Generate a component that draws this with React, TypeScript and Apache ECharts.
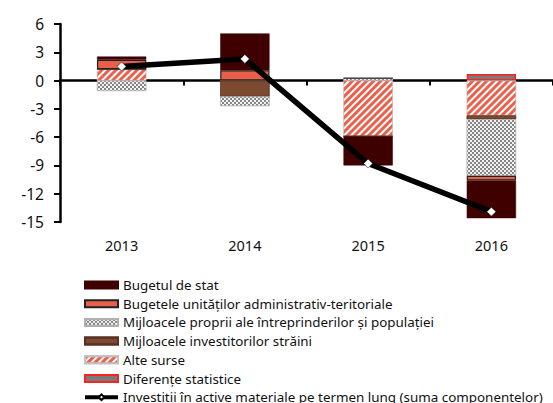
import React, { useEffect, useRef } from "react";
import * as echarts from "echarts";

const categories = ["2013", "2014", "2015", "2016"];
const bugetulDeStat = [0.35, 3.9, -3.1, -4.0];
const bugeteleUAT = [1.0, 1.1, 0, -0.5];
const mijloacelePropriiFirme = [-1.1, -1.0, 0.25, -6.0];
const mijloaceleInvestitori = [0, -1.7, 0, -0.4];
const alteSurse = [1.2, 0, -5.9, -3.7];
const diferenteStatistice = [0, 0, 0, 0.7];
const investitiiTotal = [1.5, 2.3, -8.8, -13.9];
const yTicks = { min: -15, max: 6, interval: 3 };

const FONT = "Noto Sans";

export default function App() {
  const ref = useRef<HTMLDivElement>(null);
  useEffect(() => {
    if (!ref.current) return;
    const chart = echarts.init(ref.current, null, { renderer: "svg" });
    const barCommon = {
      type: "bar",
      stack: "total",
      barWidth: "40%",
      xAxisIndex: 0,
      yAxisIndex: 0,
    };
    const rectIcon = "rect";
    chart.setOption({
      animation: false,
      textStyle: { fontFamily: FONT },
      grid: { left: 60, top: 24, width: 499, bottom: 181, containLabel: false },
      legend: {
        orient: "vertical",
        left: 83,
        top: 278,
        padding: 0,
        height: 200,
        itemWidth: 33,
        itemHeight: 7,
        itemGap: 4.7,
        textStyle: { fontFamily: FONT, fontSize: 13.4, color: "#111", lineHeight: 14 },
        data: [
          { name: "Bugetul de stat", icon: rectIcon },
          { name: "Bugetele unităților administrativ-teritoriale", icon: rectIcon },
          { name: "Mijloacele proprii ale întreprinderilor și populației", icon: rectIcon },
          { name: "Mijloacele investitorilor străini", icon: rectIcon },
          { name: "Alte surse", icon: rectIcon },
          { name: "Diferențe statistice", icon: rectIcon },
          {
            name: "Investitii în active materiale pe termen lung (suma componentelor)",
            lineStyle: { width: 4, color: "#000" },
          },
        ],
      },
      xAxis: [
        {
          type: "category",
          data: categories,
          position: "bottom",
          axisLine: { show: false, onZero: false },
          axisTick: { show: false },
          axisLabel: { fontFamily: FONT, fontSize: 14.5, color: "#111", margin: 15 },
        },
        {
          type: "category",
          data: categories,
          position: "bottom",
          axisLine: { show: true, onZero: true, lineStyle: { color: "#000", width: 2.5 } },
          axisTick: { show: true, length: 5, lineStyle: { color: "#000", width: 2 } },
          axisLabel: { show: false },
        },
      ],
      yAxis: {
        type: "value",
        min: yTicks.min,
        max: yTicks.max,
        interval: yTicks.interval,
        axisLine: { show: true, onZero: false, lineStyle: { color: "#000", width: 2.5 } },
        axisTick: { show: true, length: 6, lineStyle: { color: "#000", width: 2 } },
        splitLine: { show: false },
        axisLabel: { fontFamily: FONT, fontSize: 15.5, color: "#111", margin: 16 },
      },
      series: [
        {
          ...barCommon,
          name: "Diferențe statistice",
          data: diferenteStatistice,
          itemStyle: { color: "#7a7a7a", borderColor: "#ff2020", borderWidth: 1.5 },
        },
        {
          ...barCommon,
          name: "Alte surse",
          data: alteSurse,
          itemStyle: {
            color: "#ffffff",
            borderColor: "#c0c0c0",
            borderWidth: 0.5,
            decal: {
              symbol: "rect",
              color: "#ec5f4a",
              dashArrayX: [1, 0],
              dashArrayY: [2.2, 1.6],
              rotation: -Math.PI / 4,
            },
          },
        },
        {
          ...barCommon,
          name: "Mijloacele investitorilor străini",
          data: mijloaceleInvestitori,
          itemStyle: {
            color: "#7b4a30",
            borderColor: "#5a3020",
            borderWidth: 0.5,
            decal: {
              symbol: "circle",
              symbolSize: 0.3,
              color: "#ffffff",
              dashArrayX: [[1.5, 8]],
              dashArrayY: [[1.5, 8]],
            },
          },
        },
        {
          ...barCommon,
          name: "Mijloacele proprii ale întreprinderilor și populației",
          data: mijloacelePropriiFirme,
          itemStyle: {
            color: "#858585",
            borderColor: "#b0b0b0",
            borderWidth: 0.5,
            decal: {
              symbol: "rect",
              symbolSize: 1,
              color: "#f2f2f2",
              dashArrayX: [[2, 2], [0, 2, 2, 0]],
              dashArrayY: [2, 0],
            },
          },
        },
        {
          ...barCommon,
          name: "Bugetele unităților administrativ-teritoriale",
          data: bugeteleUAT,
          itemStyle: { color: "#e8604a", borderColor: "#222", borderWidth: 1.2 },
        },
        {
          ...barCommon,
          name: "Bugetul de stat",
          data: bugetulDeStat,
          itemStyle: { color: "#3f0000", borderColor: "#3f0000", borderWidth: 0.5 },
        },
        {
          type: "line",
          name: "Investitii în active materiale pe termen lung (suma componentelor)",
          data: investitiiTotal,
          xAxisIndex: 0,
          yAxisIndex: 0,
          z: 5,
          symbol: "diamond",
          symbolSize: 9,
          showAllSymbol: true,
          lineStyle: { color: "#000", width: 5.5 },
          itemStyle: { color: "#ffffff", borderColor: "#000", borderWidth: 0.5 },
        },
      ],
    });
    return () => chart.dispose();
  }, []);
  return <div ref={ref} style={{ width: 553, height: 403, position: "absolute", left: 0, top: 0 }} />;
}
